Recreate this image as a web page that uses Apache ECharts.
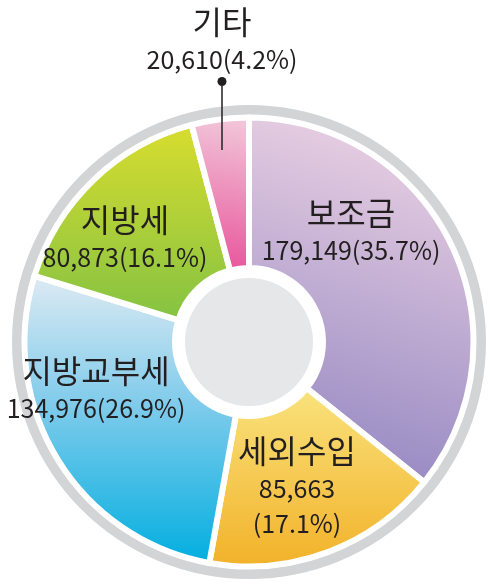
<!DOCTYPE html>
<html>
<head>
<meta charset="utf-8">
<script src="https://cdn.jsdelivr.net/npm/echarts@6/dist/echarts.min.js"></script>
<style>
html, body { margin: 0; padding: 0; background: #fff; }
#chart { width: 488px; height: 582px; }
</style>
</head>
<body>
<div id="chart"></div>
<script>
// 세입 구성
var categories = ["보조금", "세외수입", "지방교부세", "지방세", "기타"];
var amounts = [179149, 85663, 134976, 80873, 20610];
var shares = [35.7, 17.1, 26.9, 16.1, 4.2];

// 라벨 위치 (x, 위쪽 y)
var labelSpots = [[351, 193], [297, 431], [96, 351], [125, 200], [222, 2]];
var splitValue = [false, true, false, false, false];
var leader = [false, false, false, false, true];

var ink = "#231f20";
var center = [249, 342];

function grad(x, y, x2, y2, stops) {
	return new echarts.graphic.LinearGradient(x, y, x2, y2, stops.map(function (c, i) {
		return typeof c === "string" ? { offset: i / (stops.length - 1), color: c } : c;
	}));
}

var fills = [
	grad(0.75, 0, 0.3, 0.95, ["#eed4e4", "#9689c3"]),
	grad(0, 0, 0, 1, ["#f9e37e", "#f2b128"]),
	grad(0, 0, 0, 1, [
		{ offset: 0, color: "#dfebf3" },
		{ offset: 0.45, color: "#7fcbeb" },
		{ offset: 1, color: "#00aee0" }
	]),
	grad(0, 0, 0, 1, ["#d9dd2e", "#83c243"]),
	grad(0.8, 0, 0.4, 1, ["#f2cadb", "#e8529a"])
];

var pieData = categories.map(function (name, i) {
	return {
		name: name,
		value: amounts[i],
		itemStyle: { color: fills[i] }
	};
});

var myChart = echarts.init(document.getElementById("chart"), null, { renderer: "canvas" });
var option = {
	animation: false,
	graphic: [
		{
			type: "ring",
			shape: { cx: center[0], cy: center[1], r: 237, r0: 227 },
			style: { fill: "#d3d4d6" },
			silent: true
		},
		{
			type: "circle",
			shape: { cx: center[0], cy: center[1], r: 64 },
			style: { fill: "#e6e7e8" },
			silent: true
		}
	],
	series: [
		{
			type: "pie",
			center: center,
			radius: [74, 224.5],
			startAngle: 90,
			clockwise: true,
			avoidLabelOverlap: false,
			silent: true,
			itemStyle: { borderColor: "#fff", borderWidth: 6 },
			label: {
				show: true,
				position: "inside",
				color: ink,
				fontFamily: "Noto Sans CJK KR",
				formatter: function (p) {
					var i = p.dataIndex;
					var num = amounts[i].toLocaleString("en-US");
					var pct = "(" + shares[i] + "%)";
					var s = "{n|" + p.name + "}\n";
					s += splitValue[i] ? "{v|" + num + "}\n{v|" + pct + "}" : "{v|" + num + pct + "}";
					if (leader[i]) s += "\n{dot|}\n{ln|}";
					return s;
				},
				rich: {
					n: { fontSize: 32, lineHeight: 40, color: ink, fontFamily: "Noto Sans CJK KR", align: "center" },
					v: { fontSize: 25, lineHeight: 35, color: ink, fontFamily: "Noto Sans CJK KR", align: "center" },
					dot: { width: 9, height: 9, lineHeight: 9, borderRadius: 4.5, backgroundColor: ink, align: "center" },
					ln: { width: 1.5, height: 64, lineHeight: 64, backgroundColor: ink, align: "center" }
				}
			},
			labelLine: { show: false },
			labelLayout: function (params) {
				var spot = labelSpots[params.dataIndex];
				return { x: spot[0], y: spot[1], align: "center", verticalAlign: "top" };
			},
			data: pieData
		}
	]
};
myChart.setOption(option);
window.addEventListener("resize", myChart.resize);
</script>
</body>
</html>
